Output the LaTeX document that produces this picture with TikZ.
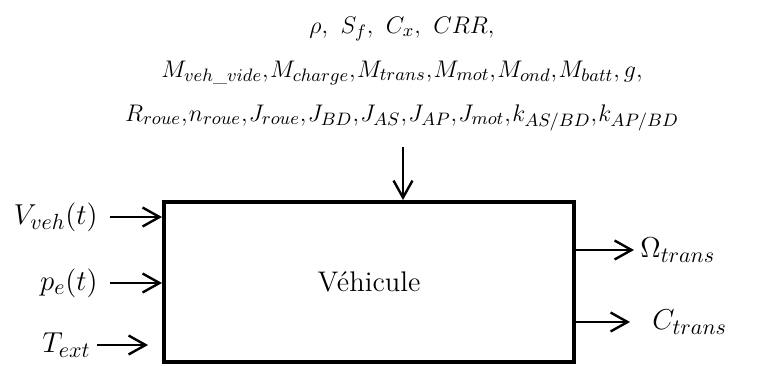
\documentclass[tikz,border=0pt]{standalone}
\usepackage{amsmath,amssymb}
\usepackage{xcolor}
\usetikzlibrary{arrows.meta,positioning,calc}
\tikzset{
  blk/.style={rectangle, draw, line width=2pt, align=center,
              font=\fontsize{14.2}{17}\selectfont, inner sep=0pt,
              minimum width=205pt, minimum height=80pt},
  fl/.style={-{Straight Barb[length=8.5pt,width=9.5pt,line width=1.2pt]}, line width=1.2pt},
  lbl/.style={font=\fontsize{15.5}{18}\selectfont, inner sep=3pt},
  par/.style={font=\fontsize{13}{22}\selectfont, align=center, inner sep=0pt},
}
\newcommand{\cm}{{,}\mkern1mu}
\begin{document}
\begin{tikzpicture}[x=0.5pt,y=-0.5pt]
\useasboundingbox (0,0) rectangle (771,365);
\node[blk] (veh) at (369,282) {V\'ehicule};
\node[par] (prm) at (402,74) {$\rho,\ S_f,\ C_x,\ CRR,$\\
  $M_{veh\_vide}\cm M_{charge}\cm M_{trans}\cm M_{mot}\cm M_{ond}\cm M_{batt}, g,$\\
  $R_{roue}\cm n_{roue}\cm J_{roue}\cm J_{BD}\cm J_{AS}\cm J_{AP}\cm J_{mot}\cm k_{AS/BD}\cm k_{AP/BD}$};
\node[lbl,anchor=east] (vv) at (104,217) {$V_{veh}(t)$};
\node[lbl,anchor=east] (pe) at (104,283) {$p_e(t)$};
\node[lbl,anchor=east] (te) at (97,345) {$T_{ext}$};
\node[lbl,anchor=west] (om) at (634,250) {$\Omega_{trans}$};
\node[lbl,anchor=west] (ct) at (646,322) {$C_{trans}$};
\coordinate (ptop) at (403,147);
\coordinate (tetip) at (148,345);
\coordinate (cttip) at (630,322);
\draw[fl] (ptop) -- (ptop |- veh.north);
\draw[fl, shorten <=3pt] (vv.east) -- (veh.west |- vv.east);
\draw[fl, shorten <=3pt] (pe.east) -- (veh.west |- pe.east);
\draw[fl] (te.east) -- (tetip);
\draw[fl] (veh.east |- om.west) -- (om.west);
\draw[fl] (veh.east |- cttip) -- (cttip);
\end{tikzpicture}
\end{document}
